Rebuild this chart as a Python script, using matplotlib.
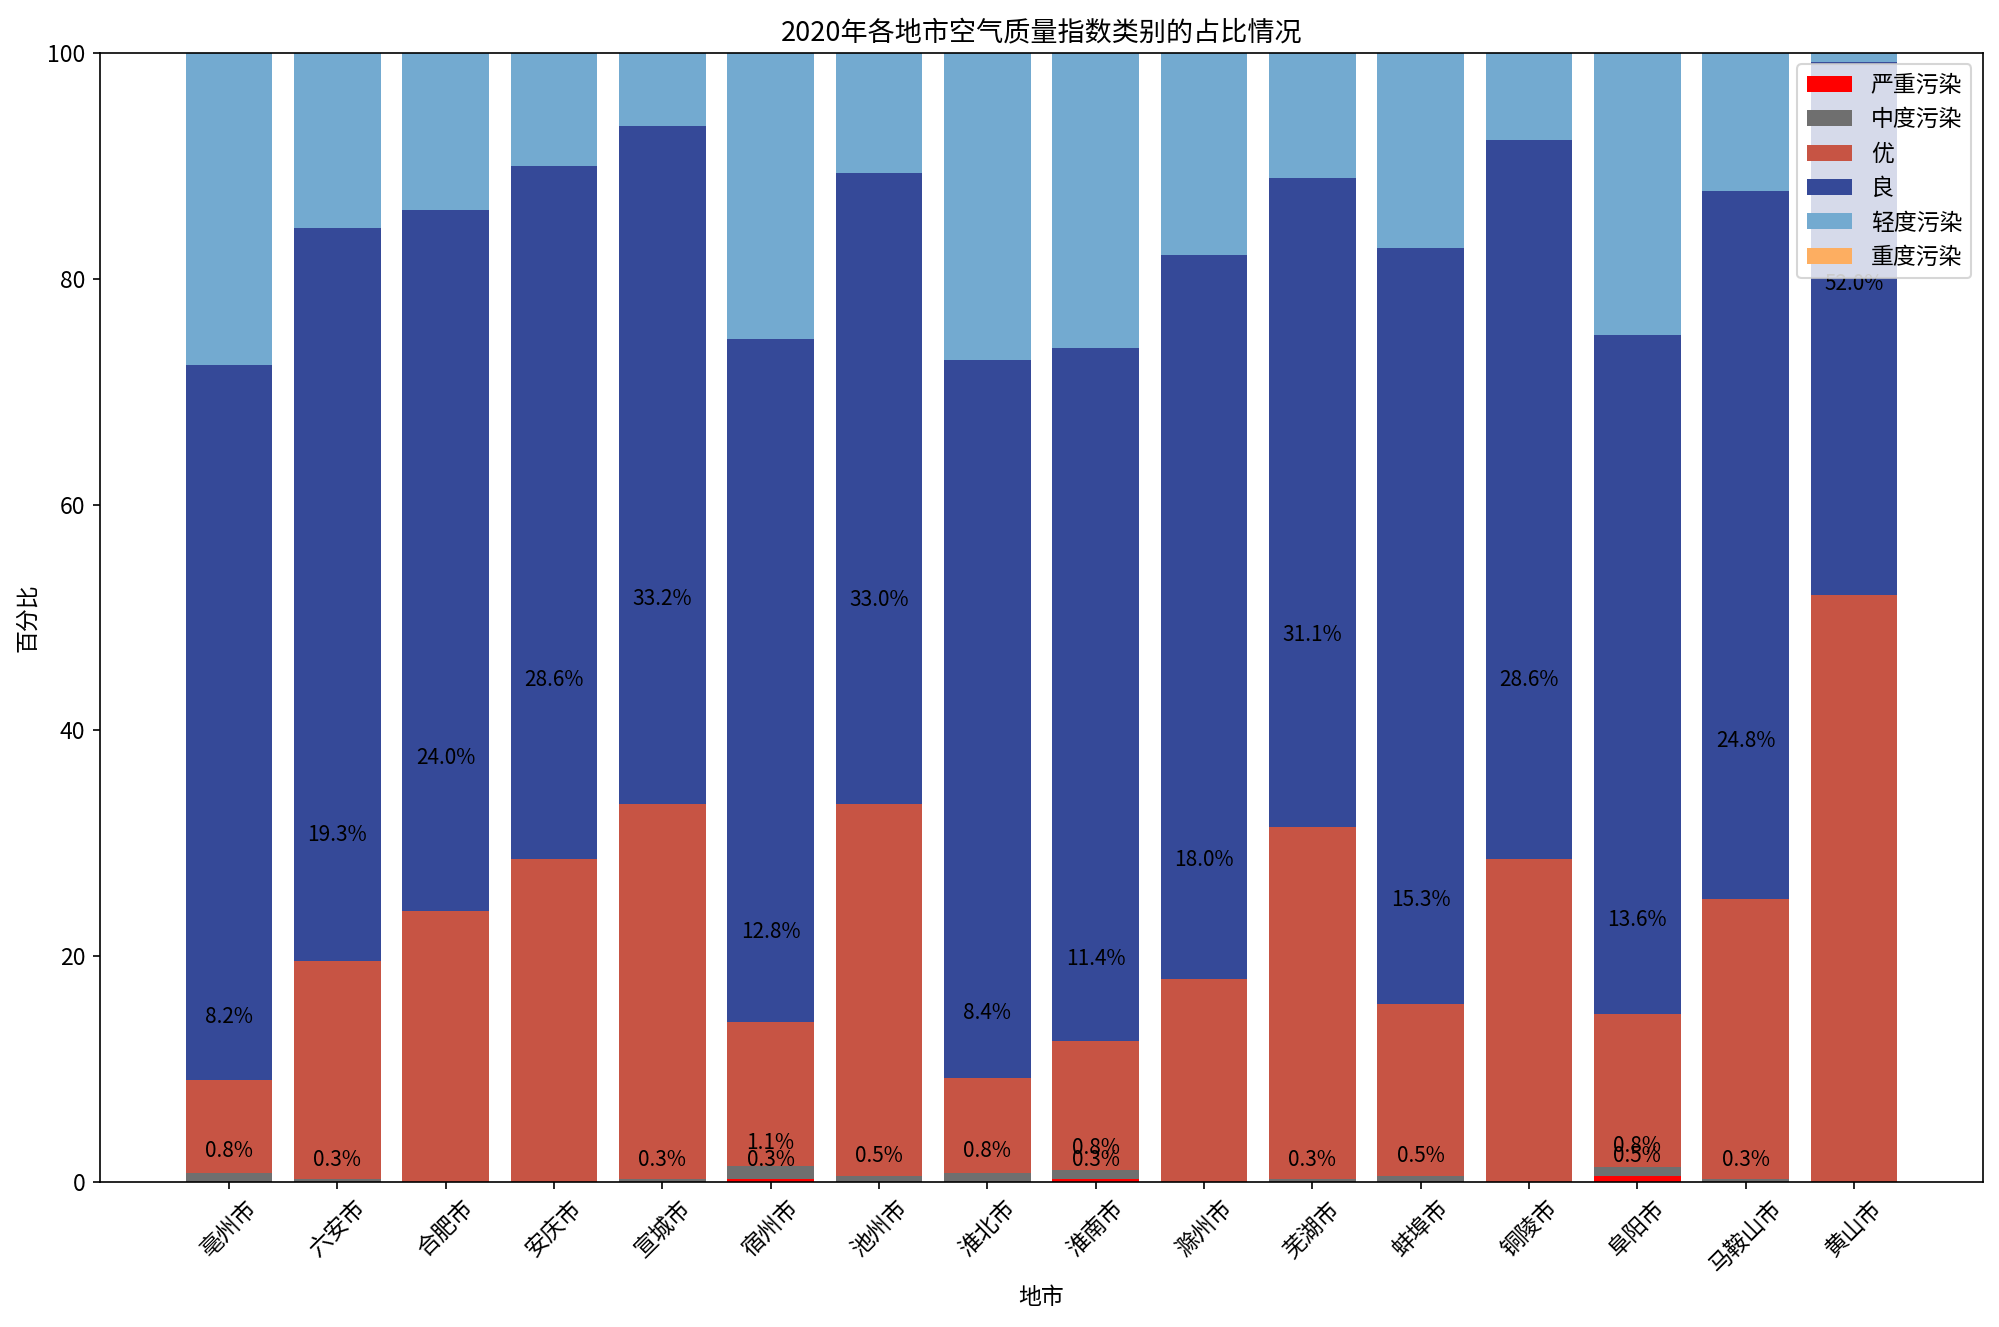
import matplotlib
matplotlib.use("Agg")
import matplotlib.pyplot as plt
import numpy as np

plt.rcParams['font.family'] = ['Noto Sans CJK SC', 'DejaVu Sans']
plt.rcParams['axes.unicode_minus'] = False
plt.rcParams['font.size'] = 11

# 各地市名称
cities = ["亳州市", "六安市", "合肥市", "安庆市", "宣城市", "宿州市", "池州市", "淮北市",
          "淮南市", "滁州市", "芜湖市", "蚌埠市", "铜陵市", "阜阳市", "马鞍山市", "黄山市"]

# 各类别占比（%）
severe = [0, 0, 0, 0, 0, 0.3, 0, 0, 0.3, 0, 0, 0, 0, 0.5, 0, 0]
moderate = [0.8, 0.3, 0, 0, 0.3, 1.1, 0.5, 0.8, 0.8, 0, 0.3, 0.5, 0, 0.8, 0.3, 0]
excellent = [8.2, 19.3, 24.0, 28.6, 33.2, 12.8, 33.0, 8.4, 11.4, 18.0, 31.1, 15.3, 28.6, 13.6, 24.8, 52.0]
good = [63.4, 64.9, 62.1, 61.4, 60.0, 60.5, 55.9, 63.6, 61.4, 64.1, 57.5, 66.9, 63.7, 60.1, 62.7, 47.2]
light = [27.6, 15.5, 13.9, 10.0, 6.5, 25.3, 10.6, 27.2, 26.1, 17.9, 11.1, 17.3, 7.7, 25.0, 12.2, 0.8]
heavy = [0] * 16

series = [("严重污染", severe, "#ff0000", True),
          ("中度污染", moderate, "#6f6f6f", True),
          ("优", excellent, "#c75444", True),
          ("良", good, "#354998", False),
          ("轻度污染", light, "#73aad0", False),
          ("重度污染", heavy, "#fdae61", False)]

fig = plt.figure(figsize=(13.333, 8.847), dpi=150)
ax = fig.add_axes([0.05, 0.1093, 0.9415, 0.8507])

x = np.arange(len(cities))
bottom = np.zeros(len(cities))
for name, vals, color, show in series:
    vals = np.array(vals, dtype=float)
    ax.bar(x, vals, 0.8, bottom=bottom, color=color, label=name)
    if show:
        # 在柱子上方标注百分比
        for xi, b, v in zip(x, bottom, vals):
            if v > 0:
                ax.annotate(f"{v:.1f}%", (xi, b + v * 1.5), xytext=(0, 3),
                            textcoords="offset points", ha="center", va="bottom", fontsize=10)
    bottom = bottom + vals

ax.set_ylim(0, 100)
ax.set_xticks(x)
ax.set_xticklabels(cities, rotation=45)
ax.set_xlabel("地市")
ax.set_ylabel("百分比")
ax.set_title("2020年各地市空气质量指数类别的占比情况", fontsize=13)
ax.legend(loc="upper right")

fig.savefig("out.png", dpi=150)
